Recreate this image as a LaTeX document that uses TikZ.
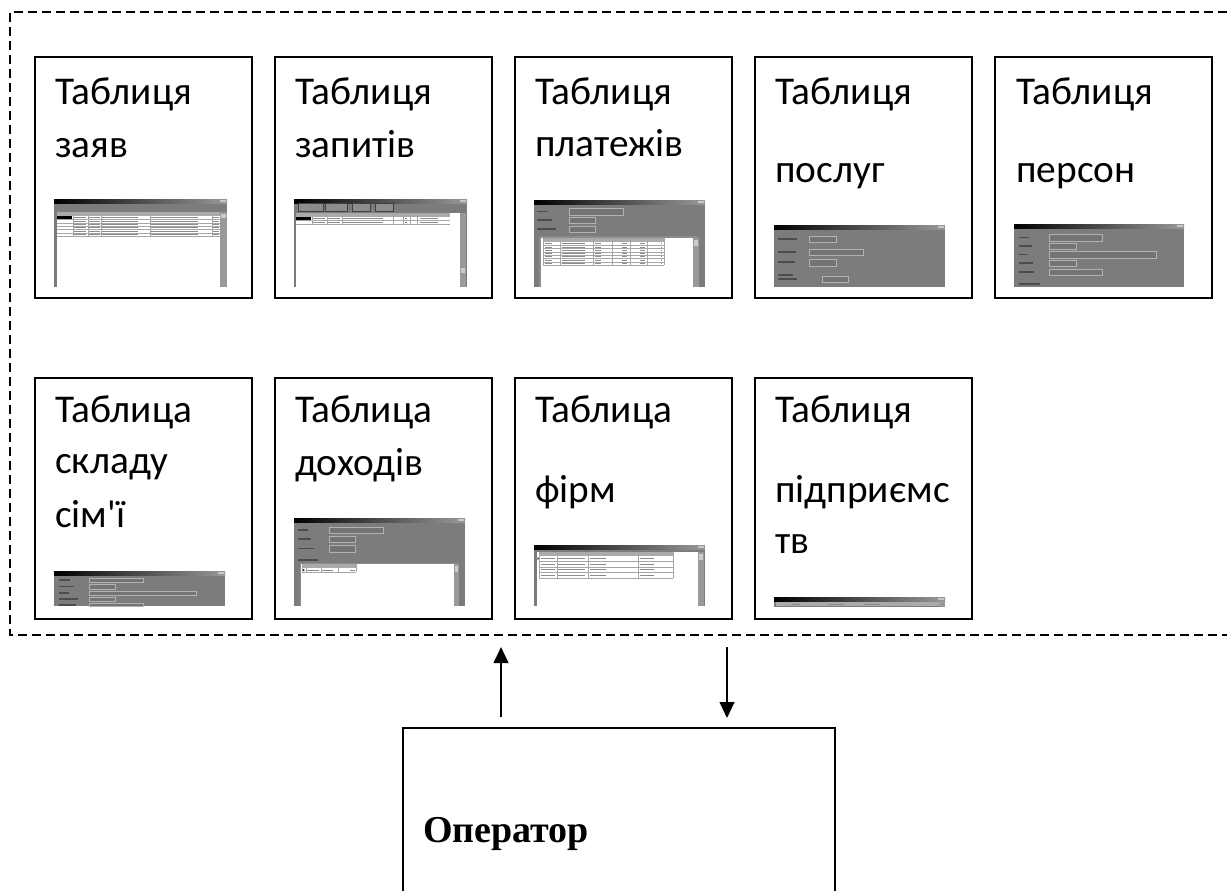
\documentclass[tikz,border=0pt]{standalone}
\usepackage{fontspec}
\setmainfont{Carlito}
\newfontfamily\opfont{Liberation Serif}
\usetikzlibrary{arrows.meta}
\definecolor{wing}{RGB}{124,124,124}
\definecolor{fieldc}{RGB}{116,116,116}
\definecolor{hdr}{RGB}{170,170,170}

% window title bar of a small screenshot: x1, y, x2
\newcommand\wintitle[3]{%
  \shade[left color=black, right color=black!40] (#1,#2) rectangle (#3,#2+4);
  \fill[black!22] (#3-7,#2+0.6) rectangle (#3-1,#2+3.4);}
% input field: x1,y1,x2,y2
\newcommand\winfield[4]{\draw[draw=black!30, fill=fieldc, line width=0.35pt] (#1,#2) rectangle (#3,#4);}
% label text stroke: x1,x2,y
\newcommand\wintext[3]{\draw[draw=black!70, line width=0.8pt] (#1,#3) -- (#2,#3);}

\begin{document}
\begin{tikzpicture}[x=0.75pt,y=-0.75pt,
  tbox/.style={draw, line width=1.5pt, minimum width=162.75pt, minimum height=180.75pt,
               anchor=north west, inner sep=0pt},
  opbox/.style={draw, line width=1.5pt, minimum width=324pt, minimum height=150pt,
               anchor=north west, inner sep=0pt},
  lbl/.style={anchor=base west, inner sep=0pt, font=\fontsize{29.5}{34}\selectfont},
  oplbl/.style={anchor=base west, inner sep=0pt, font=\opfont\bfseries\fontsize{28.5}{32}\selectfont},
  frame/.style={line width=1.5pt, dash pattern=on 6.5pt off 4pt},
  arr/.style={line width=1.5pt, -{Triangle[width=11pt,length=12pt]}},
  cell/.style={draw=black!35, line width=0.3pt},
  celltext/.style={draw=black!45, line width=0.7pt},
]
\useasboundingbox (0,0) rectangle (1227,890);

% ---------- boundary of the data store ----------
\draw[frame] (1227,12) -- (10,12) -- (10,635) -- (1227,635);

% ---------- table boxes ----------
\node[tbox] (t1) at (34,56) {};
\node[tbox] (t2) at (274,56) {};
\node[tbox] (t3) at (514,56) {};
\node[tbox] (t4) at (754,56) {};
\node[tbox] (t5) at (994,56) {};
\node[tbox] (t6) at (34,377) {};
\node[tbox] (t7) at (274,377) {};
\node[tbox] (t8) at (514,377) {};
\node[tbox] (t9) at (754,377) {};

\node[lbl] (t1a) at (55,104) {Таблиця};
\node[lbl] (t1b) at (55,157) {заяв};
\node[lbl] (t2a) at (295,104) {Таблиця};
\node[lbl] (t2b) at (295,157) {запитів};
\node[lbl] (t3a) at (535,104) {Таблиця};
\node[lbl] (t3b) at (535,156) {платежів};
\node[lbl] (t4a) at (775,104) {Таблиця};
\node[lbl] (t4b) at (775,182) {послуг};
\node[lbl] (t5a) at (1016,104) {Таблиця};
\node[lbl] (t5b) at (1016,182) {персон};
\node[lbl] (t6a) at (55,422) {Таблица};
\node[lbl] (t6b) at (55,473) {складу};
\node[lbl] (t6c) at (55,527) {сім\textquotesingle ї};
\node[lbl] (t7a) at (295,422) {Таблица};
\node[lbl] (t7b) at (295,475) {доходів};
\node[lbl] (t8a) at (535,422) {Таблица};
\node[lbl] (t8b) at (535,502) {фірм};
\node[lbl] (t9a) at (775,422) {Таблиця};
\node[lbl] (t9b) at (775,502) {підприємс};
\node[lbl] (t9c) at (775,553) {тв};

% ---------- screenshot: applications ----------
\fill[wing] (54,199) rectangle (227,287);
\wintitle{54}{199}{227}
\fill[hdr] (57,212) rectangle (220,216);
\fill[white] (57,216) rectangle (220,287);
\fill[black] (57,216) rectangle (72,219.4);
\foreach \r in {0,...,5}{
  \draw[cell] (57,219.4+3.4*\r) -- (220,219.4+3.4*\r);
  \draw[celltext] (74,217.7+3.4*\r) -- (86,217.7+3.4*\r);
  \draw[celltext] (89,217.7+3.4*\r) -- (100,217.7+3.4*\r);
  \draw[celltext] (102,217.7+3.4*\r) -- (138,217.7+3.4*\r);
  \draw[celltext] (151,217.7+3.4*\r) -- (198,217.7+3.4*\r);
  \draw[celltext] (213,217.7+3.4*\r) -- (219,217.7+3.4*\r);
}
\foreach \c in {73,88,101,150,212} \draw[cell] (\c,212) -- (\c,237.4);
\fill[black!40] (220,212) rectangle (227,287);
\fill[black!20] (221,214) rectangle (226,218);

% ---------- screenshot: requests ----------
\fill[wing] (294,199) rectangle (467,287);
\wintitle{294}{199}{467}
\foreach \a/\b in {298/323,325/347,352/370,375/393}{
  \draw[draw=black!75, fill=black!45, line width=0.4pt] (\a,203.5) rectangle (\b,211.5);
  \draw[celltext] (\a+5,207.5) -- (\b-5,207.5);
}
\fill[hdr] (296,213) rectangle (450,217);
\fill[white] (450,213) rectangle (460,217);
\fill[white] (296,217) rectangle (460,287);
\fill[black] (296,217) rectangle (311,220.4);
\foreach \r in {0,1}{
  \draw[cell] (296,220.4+3.4*\r) -- (450,220.4+3.4*\r);
  \draw[celltext] (313,218.7+3.4*\r) -- (325,218.7+3.4*\r);
  \draw[celltext] (328,218.7+3.4*\r) -- (340,218.7+3.4*\r);
  \draw[celltext] (343,218.7+3.4*\r) -- (383,218.7+3.4*\r);
  \draw[celltext] (405,218.7+3.4*\r) -- (407,218.7+3.4*\r);
  \draw[celltext] (420,218.7+3.4*\r) -- (438,218.7+3.4*\r);
}
\foreach \c in {312,327,342,393,403,410,417} \draw[cell] (\c,213) -- (\c,223.8);
\fill[black!40] (460,213) rectangle (466,287);
\fill[black!20] (461,268) rectangle (465,273);

% ---------- screenshot: payments ----------
\fill[wing] (534,200) rectangle (705,287);
\wintitle{534}{200}{705}
\wintext{537}{548}{211.5}
\wintext{537}{552}{220}
\wintext{537}{556}{229}
\winfield{569}{208}{623}{215}
\winfield{569}{217}{595}{223}
\winfield{569}{226}{595}{232}
\fill[black!45] (539,236) rectangle (699,287);
\fill[white] (541,238) rectangle (693,287);
\fill[hdr] (543,238) rectangle (664,242);
\foreach \r in {0,...,6}{
  \draw[cell] (543,242+3.3*\r+3.3) -- (664,242+3.3*\r+3.3);
  \draw[celltext] (545,243.7+3.3*\r) -- (552,243.7+3.3*\r);
  \draw[celltext] (562,243.7+3.3*\r) -- (585,243.7+3.3*\r);
  \draw[celltext] (595,243.7+3.3*\r) -- (601,243.7+3.3*\r);
  \draw[celltext] (622,243.7+3.3*\r) -- (627,243.7+3.3*\r);
  \draw[celltext] (640,243.7+3.3*\r) -- (645,243.7+3.3*\r);
  \draw[celltext] (661,243.7+3.3*\r) -- (662,243.7+3.3*\r);
}
\foreach \c in {543,560,593,612,630,647,664} \draw[cell] (\c,238) -- (\c,265.1);
\fill[black!40] (693,238) rectangle (699,287);
\fill[black!20] (694,240) rectangle (698,246);

% ---------- screenshot: services ----------
\fill[wing] (774,225) rectangle (945,287);
\wintitle{774}{225}{945}
\wintext{778}{797}{239}
\wintext{778}{796}{252}
\wintext{778}{795}{262}
\wintext{778}{793}{275}
\wintext{778}{797}{279}
\winfield{809}{236}{836}{242}
\winfield{809}{249}{863}{255}
\winfield{809}{259}{836}{266}
\winfield{822}{276}{848}{282}

% ---------- screenshot: persons ----------
\fill[wing] (1014,224) rectangle (1184,287);
\wintitle{1014}{224}{1184}
\wintext{1019}{1029}{237.5}
\wintext{1019}{1032}{246}
\wintext{1019}{1028}{254.5}
\wintext{1019}{1033}{263}
\wintext{1019}{1034}{272}
\wintext{1019}{1040}{284}
\winfield{1049}{234}{1102}{241}
\winfield{1049}{243}{1076}{249}
\winfield{1049}{251}{1156}{258}
\winfield{1049}{260}{1076}{266}
\winfield{1049}{269}{1102}{275}

% ---------- screenshot: family members ----------
\fill[wing] (54,571) rectangle (225,606);
\wintitle{54}{571}{225}
\wintext{59}{70}{580}
\wintext{59}{74}{586.5}
\wintext{59}{69}{593}
\wintext{59}{78}{599}
\wintext{59}{76}{605}
\winfield{89}{578}{143}{582}
\winfield{89}{584}{115}{589}
\winfield{89}{591}{196}{595}
\winfield{89}{597}{115}{601}
\winfield{89}{603}{143}{606}

% ---------- screenshot: incomes ----------
\fill[wing] (294,518) rectangle (465,606);
\wintitle{294}{518}{465}
\wintext{298}{308}{530}
\wintext{298}{311}{539}
\wintext{298}{314}{548.5}
\wintext{298}{318}{560}
\winfield{329}{527}{383}{533}
\winfield{329}{536}{355}{542}
\winfield{329}{545}{355}{552}
\fill[black!45] (300,563) rectangle (459,606);
\fill[white] (301,564) rectangle (454,606);
\fill[hdr] (302,564) rectangle (356,568);
\draw[cell] (302,572) -- (356,572);
\foreach \c in {302,306,321,338,356} \draw[cell] (\c,564) -- (\c,572);
\fill[black] (303,569) -- (305,570) -- (303,571) -- cycle;
\draw[celltext] (307,570) -- (319,570);
\draw[celltext] (322,570) -- (333,570);
\draw[celltext] (350,570) -- (355,570);
\fill[black!40] (454,564) rectangle (459,606);
\fill[black!20] (455,566) rectangle (458,572);

% ---------- screenshot: firms ----------
\fill[wing] (534,545) rectangle (705,606);
\wintitle{534}{545}{705}
\fill[white] (537,552) rectangle (698,606);
\fill[hdr] (539,552) rectangle (673,556);
\foreach \r in {0,...,3}{
  \draw[cell] (539,556+5.5*\r+5.5) -- (673,556+5.5*\r+5.5);
  \draw[celltext] (541,558.7+5.5*\r) -- (555,558.7+5.5*\r);
  \draw[celltext] (558,558.7+5.5*\r) -- (585,558.7+5.5*\r);
  \draw[celltext] (590,558.7+5.5*\r) -- (606,558.7+5.5*\r);
  \draw[celltext] (640,558.7+5.5*\r) -- (654,558.7+5.5*\r);
}
\foreach \c in {539,557,588,638,673} \draw[cell] (\c,552) -- (\c,578);
\fill[black] (537.5,557) -- (539,558.5) -- (537.5,560) -- cycle;
\fill[black!40] (698,552) rectangle (704,606);
\fill[black!20] (699,554) rectangle (703,560);

% ---------- screenshot: enterprises ----------
\fill[wing] (774,597) rectangle (945,607);
\wintitle{774}{597}{945}
\fill[hdr] (776,602) rectangle (940,606);
\foreach \c in {790,825,862} \draw[cell] (\c,602) -- (\c,606);
\draw[celltext] (792,604) -- (800,604);
\draw[celltext] (828,604) -- (845,604);
\draw[celltext] (864,604) -- (880,604);
\fill[black!40] (940,602) rectangle (945,607);

% ---------- operator ----------
\node[opbox] (op) at (402,727) {};
\node[oplbl] (opl) at (423,842) {Оператор};

\coordinate (upFrom) at (501,717);
\coordinate (upTo)   at (501,647);
\coordinate (dnFrom) at (727,647);
\coordinate (dnTo)   at (727,718);
\draw[arr] (upFrom) -- (upTo);
\draw[arr] (dnFrom) -- (dnTo);
\end{tikzpicture}
\end{document}
